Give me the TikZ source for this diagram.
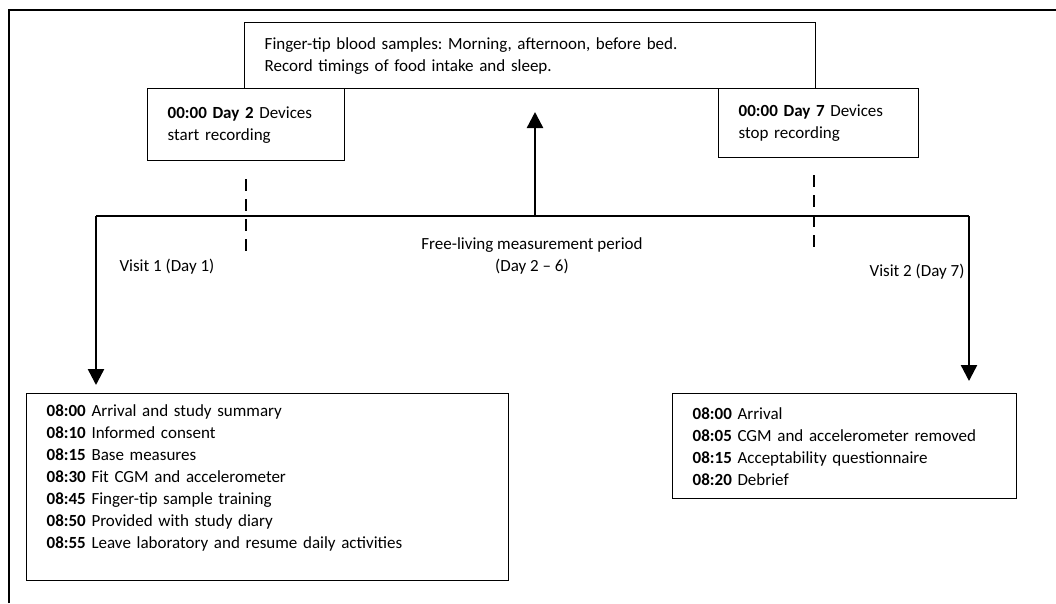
\documentclass[tikz,border=0pt]{standalone}
\usepackage{fontspec}
\setmainfont{Carlito}
\frenchspacing
\usetikzlibrary{arrows.meta,positioning,calc}

\begin{document}
\begin{tikzpicture}[x=1pt,y=-1pt,
box/.style={draw,line width=1.4pt,align=left,anchor=north west,
inner xsep=20pt,inner ysep=0pt,font=\fontsize{17}{22}\selectfont},
lbl/.style={align=center,font=\fontsize{17}{22}\selectfont},
arr/.style={-{Triangle[width=16pt,length=16pt]},line width=2.4pt},
dsh/.style={line width=1.5pt,dash pattern=on 12pt off 8pt}
]
\useasboundingbox (0,0) rectangle (1056,603);
% outer frame
\draw[line width=2.6pt] (9,603) -- (9,10) -- (1056,10);

% boxes
\node[box,text width=531pt,minimum height=66pt] (samp) at (244,22)
  {Finger-tip blood samples: Morning, afternoon, before bed.\\Record timings of food intake and sleep.};
\node[box,text width=157pt,minimum height=72pt] (dev1) at (147,88)
  {\textbf{00:00 Day 2} Devices\\start recording};
\node[box,text width=160pt,minimum height=69pt] (dev2) at (718,88)
  {\textbf{00:00 Day 7} Devices\\stop recording};
\node[box,text width=442pt,minimum height=187pt] (v1box) at (26,393)
  {\textbf{08:00} Arrival and study summary\\
   \textbf{08:10} Informed consent\\
   \textbf{08:15} Base measures\\
   \textbf{08:30} Fit CGM and accelerometer\\
   \textbf{08:45} Finger-tip sample training\\
   \textbf{08:50} Provided with study diary\\
   \textbf{08:55} Leave laboratory and resume daily activities\\ \mbox{}};
\node[box,text width=304pt,minimum height=105pt] (v2box) at (672,393)
  {\textbf{08:00} Arrival\\
   \textbf{08:05} CGM and accelerometer removed\\
   \textbf{08:15} Acceptability questionnaire\\
   \textbf{08:20} Debrief};

% labels
\node[lbl] (period) at (532,256) {Free-living measurement period\\(Day 2 -- 6)};
\node[lbl,anchor=west] (visit1) at (116,267) {Visit 1 (Day 1)};
\node[lbl,anchor=east] (visit2) at (968,272) {Visit 2 (Day 7)};

% timeline
\coordinate (lft) at (96,216);
\coordinate (hub) at (535,216);
\coordinate (rgt) at (969,216);
\coordinate (uptip) at (535,112);
\draw[line width=2.2pt] (lft) -- (rgt);
\draw[arr] (hub) -- (uptip);
\draw[arr,shorten >=8pt] (lft) -- (lft |- v1box.north);
\draw[arr,shorten >=12pt] (rgt) -- (rgt |- v2box.north);

% device markers
\coordinate (d1a) at ($(dev1.south)+(0,18)$);
\coordinate (d1b) at ($(dev1.south)+(0,96)$);
\coordinate (d2a) at (814,175);
\coordinate (d2b) at (814,252);
\foreach \a/\b in {d1a/d1b,d2a/d2b}
\draw[dsh] (\a) -- (\b);
\end{tikzpicture}
\end{document}
